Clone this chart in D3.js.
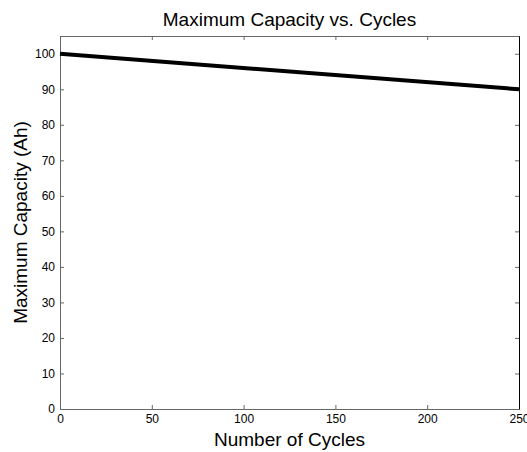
<!DOCTYPE html>
<html>
<head>
<meta charset="utf-8">
<script src="https://cdn.jsdelivr.net/npm/d3@7"></script>
<style>
  body { margin: 0; background: #fff; }
  text { font-family: Arial, "Liberation Sans", sans-serif; }
</style>
</head>
<body>
<div id="chart"></div>
<script>
var cycles = [0, 250]
var capacity = [100, 90]
var xTicks = [0, 50, 100, 150, 200, 250]
var yTicks = [0, 10, 20, 30, 40, 50, 60, 70, 80, 90, 100]

var W = 527, H = 452
var m = { left: 60, right: 8, top: 36, bottom: 43 }

var svg = d3.select('#chart').append('svg')
  .attr('width', W).attr('height', H)

var x = d3.scaleLinear().domain([0, 250]).range([m.left, W - m.right])
var y = d3.scaleLinear().domain([0, 105]).range([H - m.bottom, m.top])

// axes with inward ticks, mirrored on top/right
svg.append('g').attr('transform', 'translate(0,' + y(0) + ')')
  .call(d3.axisBottom(x).tickValues(xTicks).tickSize(-4).tickPadding(5).tickSizeOuter(0))
svg.append('g').attr('transform', 'translate(0,' + y(105) + ')')
  .call(d3.axisTop(x).tickValues(xTicks).tickSize(-4).tickFormat('').tickSizeOuter(0))
svg.append('g').attr('transform', 'translate(' + x(0) + ',0)')
  .call(d3.axisLeft(y).tickValues(yTicks).tickSize(-4).tickPadding(5).tickSizeOuter(0))
svg.append('g').attr('class', 'right').attr('transform', 'translate(' + x(250) + ',0)')
  .call(d3.axisRight(y).tickValues(yTicks).tickSize(-4).tickFormat('').tickSizeOuter(0))

svg.selectAll('.domain, .tick line').attr('stroke', '#666')
svg.select('.right .domain').attr('stroke', '#000')
svg.selectAll('.tick text').attr('font-size', 12).attr('fill', '#000')
  .attr('font-family', 'Arial, "Liberation Sans", sans-serif')

var line = d3.line().x(function (d, i) { return x(cycles[i]) }).y(function (d) { return y(d) })
svg.append('path').datum(capacity)
  .attr('d', line).attr('fill', 'none').attr('stroke', '#000').attr('stroke-width', 4)

svg.append('text').attr('x', (x(0) + x(250)) / 2).attr('y', 26)
  .attr('text-anchor', 'middle').attr('font-size', 19).text('Maximum Capacity vs. Cycles')
svg.append('text').attr('x', (x(0) + x(250)) / 2).attr('y', 446)
  .attr('text-anchor', 'middle').attr('font-size', 19).text('Number of Cycles')
svg.append('text').attr('transform', 'translate(27,' + (y(0) + y(105)) / 2 + ') rotate(-90)')
  .attr('text-anchor', 'middle').attr('font-size', 19).text('Maximum Capacity (Ah)')
</script>
</body>
</html>
